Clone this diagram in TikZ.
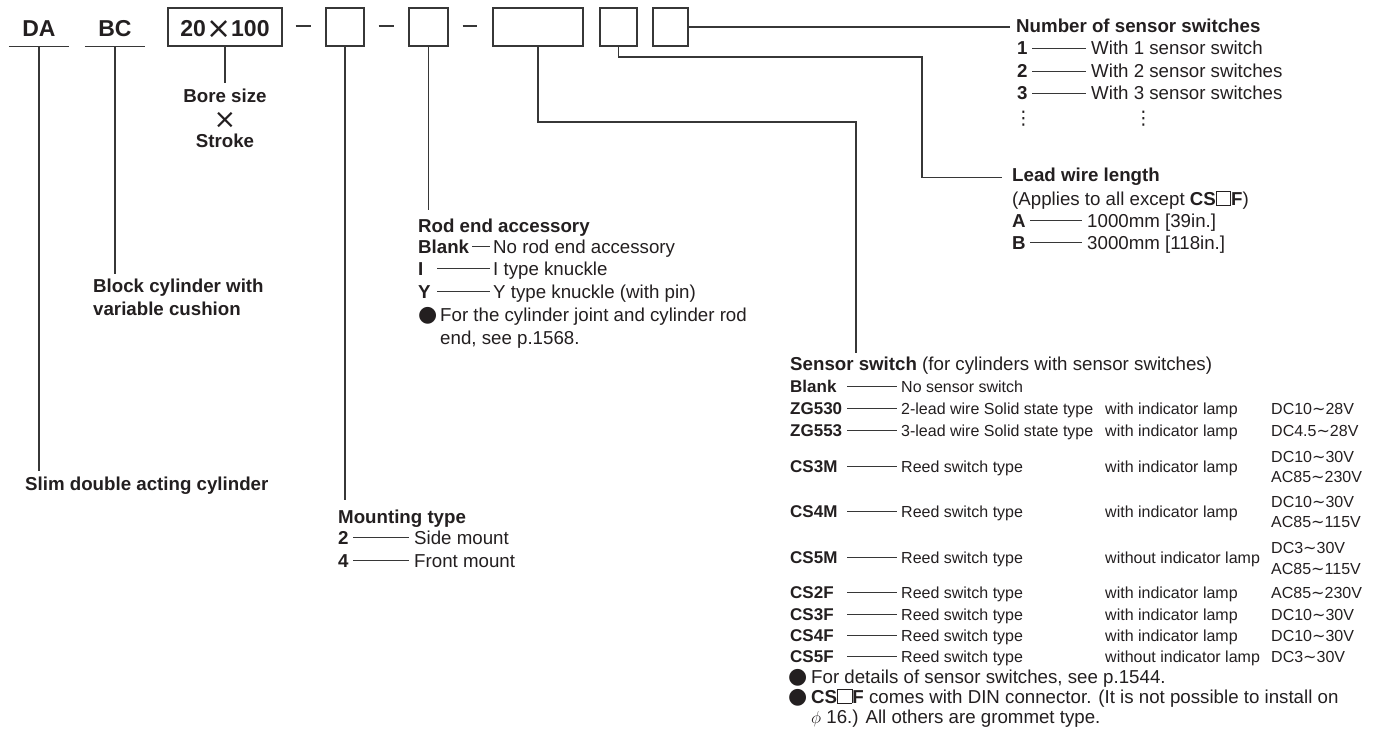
\documentclass[tikz,border=0pt]{standalone}
\usepackage{fontspec}
\usepackage{graphicx}
\setmainfont{Liberation Sans}
\newfontfamily\dejavu{DejaVu Sans}
\usetikzlibrary{calc}
\definecolor{ink}{RGB}{35,31,32}
\definecolor{lineclr}{RGB}{55,55,55}
\newcommand\mysq{{\setlength\fboxsep{0pt}\setlength\fboxrule{0.9pt}\fbox{\rule{0pt}{0.7em}\hspace{0.72em}}}}
\newcommand\wv{{\dejavu ∼}}
\newcommand\bul{{\fontsize{22}{22}\selectfont\dejavu ●}}
\begin{document}
\begin{tikzpicture}[x=1pt,y=-1pt,
  every node/.style={inner sep=0pt,text=ink},
  lab/.style={anchor=base west,font=\fontsize{18.7}{22}\selectfont},
  blab/.style={anchor=base west,font=\fontsize{18.7}{22}\selectfont\bfseries},
  slab/.style={anchor=base west,font=\fontsize{16}{20}\selectfont},
  sblab/.style={anchor=base west,font=\fontsize{17}{20}\selectfont\bfseries},
  ttl/.style={minimum height=38pt,text height=19pt,text depth=0pt,font=\fontsize{23}{23}\selectfont\bfseries},
  bx/.style={ttl,draw=lineclr,line width=1.1pt},
  ln/.style={draw=lineclr,line width=1.1pt},
  dl/.style={draw=lineclr,line width=1pt}
]
\useasboundingbox (0,0) rectangle (1383,738);
\fill[white] (0,0) rectangle (1383,738);

% ---- model code row
\node[ttl,minimum width=60pt] (da) at (39,27) {DA};
\node[ttl,minimum width=60pt] (bc) at (115,27) {BC};
\node[bx,minimum width=114pt] (b1) at (225,27) {20\raisebox{-2.5pt}{\fontsize{30}{30}\selectfont\dejavu\mdseries ×}100};
\node[bx,minimum width=38pt] (b2) at (345,27) {};
\node[bx,minimum width=39pt] (b3) at (428.5,27) {};
\node[bx,minimum width=90pt] (b4) at (538,27) {};
\node[bx,minimum width=37pt] (b5) at (618.5,27) {};
\node[bx,minimum width=35pt] (b6) at (670.5,27) {};

\draw[ln] (da.south west) -- (da.south east);
\draw[ln] (bc.south west) -- (bc.south east);
\draw[ln] ($(b1.east)+(13,-1)$) -- ($(b2.west)+(-14,-1)$);
\draw[ln] ($(b2.east)+(14,-1)$) -- ($(b3.west)+(-14,-1)$);
\draw[ln] ($(b3.east)+(14,-1)$) -- ($(b4.west)+(-15,-1)$);

% ---- bore x stroke
\node[blab,anchor=base,inner ysep=6.5pt] (bore) at (225,103) {Bore size};
\node[anchor=center] (times) at (225,120) {\fontsize{27}{27}\selectfont\dejavu ×};
\node[blab,anchor=base] (stroke) at (225,148) {Stroke};
\draw[ln] (b1.south) -- (bore.north);

% ---- slim double acting
\node[blab,inner ysep=5.5pt] (slim) at (25,490) {Slim double acting cylinder};
\draw[ln] (da.south) -- (da.south |- slim.north);

% ---- block cylinder
\node[blab,inner ysep=4.5pt] (blk1) at (93,292) {Block cylinder with};
\node[blab] (blk2) at (93,315) {variable cushion};
\draw[ln] (bc.south) -- (bc.south |- blk1.north);

% ---- mounting type
\node[blab,inner ysep=9pt] (mnt) at (338,523) {Mounting type};
\draw[ln] (b2.south) -- (b2.south |- mnt.north);
\node[blab] (m2) at (338,544) {2};
\node[lab] (m2d) at (414,544) {Side mount};
\node[blab] (m4) at (338,567) {4};
\node[lab] (m4d) at (414,567) {Front mount};
\draw[dl] ($(m2.base west)+(15,-6.7)$) -- ($(m2d.base west)+(-5,-6.7)$);
\draw[dl] ($(m4.base west)+(15,-6.7)$) -- ($(m4d.base west)+(-5,-6.7)$);

% ---- rod end accessory
\node[blab,inner ysep=8pt] (rod) at (418,232) {Rod end accessory};
\draw[ln] (b3.south) -- (b3.south |- rod.north);
\node[blab] (rb) at (418,253) {Blank};
\node[lab] (rbd) at (493,253) {No rod end accessory};
\node[blab] (ri) at (418,275) {I};
\node[lab] (rid) at (493,275) {I type knuckle};
\node[blab] (ry) at (418,298) {Y};
\node[lab] (ryd) at (493,298) {Y type knuckle (with pin)};
\draw[dl] ($(rb.base west)+(54,-6.7)$) -- ($(rbd.base west)+(-3,-6.7)$);
\draw[dl] ($(ri.base west)+(19,-6.7)$) -- ($(rid.base west)+(-3,-6.7)$);
\draw[dl] ($(ry.base west)+(19,-6.7)$) -- ($(ryd.base west)+(-3,-6.7)$);
\node[lab] (rbul) at (418,321) {\bul};
\node[lab] (rn1) at (440,321) {For the cylinder joint and cylinder rod};
\node[lab] (rn2) at (440,344) {end, see p.1568.};

% ---- number of sensor switches
\node[blab] (num) at (1016,33) {Number of sensor switches};
\draw[ln,shorten >=6pt] (b6.east) -- (b6.east -| num.west);
\node[blab] (n1) at (1017,55) {1};
\node[lab] (n1d) at (1091,55) {With 1 sensor switch};
\node[blab] (n2) at (1017,78) {2};
\node[lab] (n2d) at (1091,78) {With 2 sensor switches};
\node[blab] (n3) at (1017,100) {3};
\node[lab] (n3d) at (1091,100) {With 3 sensor switches};
\draw[dl] ($(n1.base west)+(15,-6.7)$) -- ($(n1d.base west)+(-5,-6.7)$);
\draw[dl] ($(n2.base west)+(15,-6.7)$) -- ($(n2d.base west)+(-5,-6.7)$);
\draw[dl] ($(n3.base west)+(15,-6.7)$) -- ($(n3d.base west)+(-5,-6.7)$);
\node[lab] (nv1) at (1014,125) {\dejavu ⋮};
\node[lab] (nv2) at (1134,125) {\dejavu ⋮};

% ---- lead wire length
\node[blab] (lead) at (1012,182) {Lead wire length};
\coordinate (k5) at (922,57);
\draw[ln,shorten >=10pt] (b5.south) |- (k5) |- (lead.west);
\node[lab] (appl) at (1012,205) {(Applies to all except \textbf{CS}\mysq\textbf{F})};
\node[blab] (la) at (1012,227) {A};
\node[lab] (lad) at (1087,227) {1000mm [39in.]};
\node[blab] (lb) at (1012,249) {B};
\node[lab] (lbd) at (1087,249) {3000mm [118in.]};
\draw[dl] ($(la.base west)+(18,-6.7)$) -- ($(lad.base west)+(-5,-6.7)$);
\draw[dl] ($(lb.base west)+(18,-6.7)$) -- ($(lbd.base west)+(-5,-6.7)$);

% ---- sensor switch
\node[lab,inner ysep=3.5pt] (sens) at (790,370) {\textbf{Sensor switch} (for cylinders with sensor switches)};
\coordinate (k4) at (856,122);
\draw[ln] (b4.south) |- (k4) -- (k4 |- sens.north);

\foreach \i/\yy/\cd/\ds in {
  1/392/Blank/No sensor switch,
  2/414/ZG530/2-lead wire Solid state type,
  3/436/ZG553/3-lead wire Solid state type,
  4/472/CS3M/Reed switch type,
  5/517/CS4M/Reed switch type,
  6/563/CS5M/Reed switch type,
  7/598/CS2F/Reed switch type,
  8/620/CS3F/Reed switch type,
  9/641/CS4F/Reed switch type,
  10/662/CS5F/Reed switch type}{
  \node[sblab] (sc\i) at (790,\yy) {\cd};
  \node[slab] (sd\i) at (901,\yy) {\ds};
  \draw[dl] ($(sc\i.base west)+(57,-5.8)$) -- ($(sd\i.base west)+(-4,-5.8)$);
}
\foreach \i/\yy/\lp in {
  2/414/with, 3/436/with, 4/472/with, 5/517/with, 6/563/without,
  7/598/with, 8/620/with, 9/641/with, 10/662/without}{
  \node[slab] (sl\i) at (1105,\yy) {\lp{} indicator lamp};
}
\node[slab] (sv2) at (1271,414) {DC10\wv28V};
\node[slab] (sv3) at (1271,436) {DC4.5\wv28V};
\node[slab] (sv4a) at (1271,462) {DC10\wv30V};
\node[slab] (sv4b) at (1271,482) {AC85\wv230V};
\node[slab] (sv5a) at (1271,507) {DC10\wv30V};
\node[slab] (sv5b) at (1271,527) {AC85\wv115V};
\node[slab] (sv6a) at (1271,553) {DC3\wv30V};
\node[slab] (sv6b) at (1271,574) {AC85\wv115V};
\node[slab] (sv7) at (1271,598) {AC85\wv230V};
\node[slab] (sv8) at (1271,620) {DC10\wv30V};
\node[slab] (sv9) at (1271,641) {DC10\wv30V};
\node[slab] (sv10) at (1271,662) {DC3\wv30V};

\node[lab] (sb1) at (788,683) {\bul};
\node[lab] (sn1) at (811,683) {For details of sensor switches, see p.1544.};
\node[lab] (sb2) at (788,703) {\bul};
\node[lab] (sn2) at (811,703) {\textbf{CS}\mysq\textbf{F} comes with DIN connector. (It is not possible to install on};
\node[lab] (sn3) at (811,723) {$\phi$ 16.) All others are grommet type.};
\end{tikzpicture}
\end{document}
